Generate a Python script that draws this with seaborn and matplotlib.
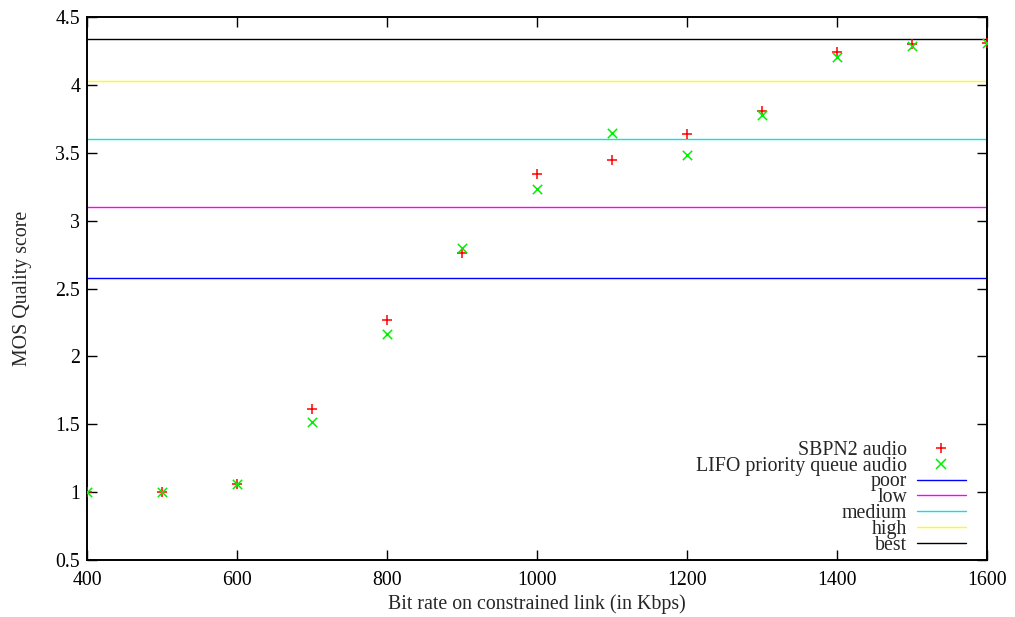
import matplotlib
matplotlib.use("Agg")
import matplotlib.pyplot as plt
import seaborn as sns
import pandas as pd
from matplotlib.ticker import FuncFormatter
from matplotlib.lines import Line2D

bitrates = [400, 500, 600, 700, 800, 900, 1000, 1100, 1200, 1300, 1400, 1500, 1600]
sbpn2 = [1.00, 1.00, 1.06, 1.61, 2.27, 2.76, 3.34, 3.45, 3.64, 3.81, 4.24, 4.30, 4.31]
lifo = [1.00, 1.00, 1.06, 1.52, 2.165, 2.80, 3.23, 3.645, 3.48, 3.78, 4.205, 4.29, 4.31]

level_names = ["poor", "low", "medium", "high", "best"]
level_values = [2.58, 3.10, 3.60, 4.03, 4.34]
level_colors = ["#0000ff", "#ff00ff", "#00e5e5", "#ffff00", "#000000"]

series_names = ["SBPN2 audio", "LIFO priority queue audio"]
x_ticks = [400, 600, 800, 1000, 1200, 1400, 1600]
y_ticks = [0.5, 1, 1.5, 2, 2.5, 3, 3.5, 4, 4.5]

sns.set_style("ticks")
plt.rcParams['font.family'] = ['Liberation Serif', 'DejaVu Serif']

df = pd.DataFrame({
    "x": bitrates * 2,
    "y": sbpn2 + lifo,
    "series": [series_names[0]] * len(bitrates) + [series_names[1]] * len(bitrates),
})

fig = plt.figure(figsize=(10.15, 6.17), dpi=100)
ax = fig.add_axes([87 / 1015, 1 - 560 / 617, 900 / 1015, 543 / 617])

fs = 14.3

sns.scatterplot(data=df[df.series == series_names[0]], x="x", y="y", ax=ax,
                marker="+", color="#ff0000", s=55, linewidth=1.1,
                zorder=3, legend=False)
sns.scatterplot(data=df[df.series == series_names[1]], x="x", y="y", ax=ax,
                marker="x", color="#00ee00", s=45, linewidth=1.1,
                zorder=3, legend=False)

for name, val, col in zip(level_names, level_values, level_colors):
    ax.axhline(val, color=col, lw=1.0, zorder=2)

ax.set_xlim(400, 1600)
ax.set_ylim(0.5, 4.5)
ax.set_xticks(x_ticks)
ax.set_yticks(y_ticks)
ax.yaxis.set_major_formatter(FuncFormatter(lambda v, p: f"{v:g}"))
ax.tick_params(direction="in", top=True, right=True, length=7, width=1.0,
               labelsize=fs, colors="black")
ax.tick_params(axis="x", pad=8)
ax.tick_params(axis="y", pad=5)
for sp in ax.spines.values():
    sp.set_visible(True)
    sp.set_linewidth(1.4)
    sp.set_color("black")

ax.set_xlabel("Bit rate on constrained link (in Kbps)", fontsize=fs, labelpad=3)
ax.set_ylabel("MOS Quality score", fontsize=fs, labelpad=17)

h = [Line2D([], [], ls="none", marker="+", color="#ff0000", markersize=7.5, markeredgewidth=1.1),
     Line2D([], [], ls="none", marker="x", color="#00ee00", markersize=6.5, markeredgewidth=1.1)]
h += [Line2D([], [], color=c, lw=1.0) for c in level_colors]
leg = ax.legend(h, series_names + level_names, loc="lower right", frameon=False,
                markerfirst=False, fontsize=fs, handlelength=2.45, handletextpad=0.5,
                labelspacing=-0.16, borderaxespad=0.0, bbox_to_anchor=(0.985, -0.005))

fig.savefig("out.png", dpi=100)
